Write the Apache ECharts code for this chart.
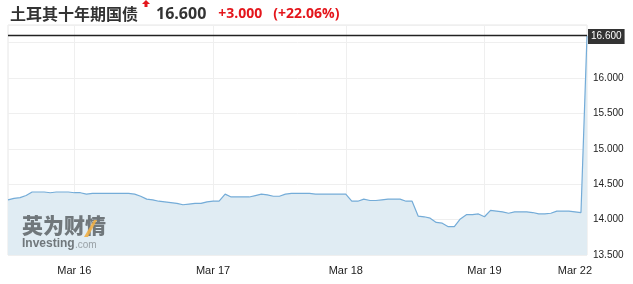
<!DOCTYPE html>
<html><head><meta charset="utf-8">
<script src="https://cdn.jsdelivr.net/npm/echarts@6/dist/echarts.min.js"></script>
<style>html,body{margin:0;padding:0;background:#fff}#c{width:633px;height:284px}</style>
</head><body><div id="c"></div>
<script>
// Time slots (about every few hours of trading); day labels shown at the slots below
const slots = ['s0','s1','s2','s3','s4','s5','s6','s7','s8','s9','s10','s11','s12','s13','s14','s15','s16','s17','s18','s19','s20','s21','s22','s23','s24','s25','s26','s27','s28','s29','s30','s31','s32','s33','s34','s35','s36','s37','s38','s39','s40','s41','s42','s43','s44','s45','s46','s47','s48','s49','s50','s51','s52','s53','s54','s55','s56','s57','s58','s59','s60','s61','s62','s63','s64','s65','s66','s67','s68','s69','s70','s71','s72','s73','s74','s75','s76','s77','s78','s79','s80','s81','s82','s83','s84','s85','s86','s87','s88','s89','s90','s91','s92','s93','s94','s95','s96'];
const dayLabels = {s11:'Mar 16', s34:'Mar 17', s56:'Mar 18', s79:'Mar 19', s94:'Mar 22'};
const yields = [
 14.28,14.30,14.31,14.34,14.39,14.39,14.39,14.38,14.39,14.39,
 14.39,14.38,14.38,14.36,14.37,14.37,14.37,14.37,14.37,14.37,
 14.37,14.36,14.33,14.29,14.28,14.26,14.25,14.24,14.23,14.21,
 14.22,14.23,14.23,14.25,14.26,14.26,14.36,14.32,14.32,14.32,
 14.32,14.34,14.36,14.35,14.33,14.33,14.36,14.37,14.37,14.37,
 14.37,14.36,14.36,14.36,14.36,14.36,14.36,14.26,14.26,14.29,
 14.27,14.27,14.28,14.29,14.29,14.29,14.26,14.26,14.05,14.04,
 14.02,13.96,13.95,13.90,13.90,14.01,14.07,14.07,14.08,14.04,
 14.13,14.12,14.11,14.09,14.11,14.11,14.11,14.10,14.08,14.08,
 14.09,14.12,14.12,14.12,14.11,14.10,16.60
];
const lastPrice = 16.600;
const headline = {name:'土耳其十年期国债', price:'16.600', change:'+3.000', pct:'(+22.06%)'};
const yMin = 13.5, yMax = 16.75, yStep = 0.5;

const chart = echarts.init(document.getElementById('c'), null, {renderer:'canvas'});
chart.setOption({
  animation:false,
  title:{
    left:5, top:0,
    text:'{a|'+headline.name+'}{sp|}{b|'+headline.price+'}{sp2|}{c|'+headline.change+'}{sp3|}{c|'+headline.pct+'}',
    textStyle:{
      rich:{
        a:{fontFamily:'Noto Sans CJK SC',fontSize:16,color:'#333'},
        sp:{width:18},
        b:{fontFamily:'Open Sans',fontSize:16,fontWeight:'bold',color:'#333'},
        sp2:{width:12},
        c:{fontFamily:'Open Sans',fontSize:14,fontWeight:'bold',color:'#e4161c'},
        sp3:{width:11}
      }
    }
  },
  graphic:[
    {type:'polygon', z:20, shape:{points:[[142,4],[146,0],[150,4],[147.5,4],[147.5,7],[144.5,7],[144.5,4]]}, style:{fill:'#e4161c'}, silent:true},
    {type:'text', z:20, left:22, top:215, style:{text:'英为财情', font:'900 21px "Noto Sans CJK SC"', fill:'rgba(100,106,110,0.9)'}},
    {type:'polygon', z:21, shape:{points:[[84,237],[94,220],[97,220],[88,237]]}, style:{fill:'rgba(240,175,70,0.9)'}, silent:true},
    {type:'text', z:20, left:22, top:238, style:{text:'Investing', font:'bold 12px "Liberation Sans"', fill:'rgba(100,106,110,0.9)'}},
    {type:'text', z:20, left:75, top:240, style:{text:'.com', font:'10px "Liberation Sans"', fill:'rgba(130,136,140,0.75)'}}
  ],
  grid:{left:8, right:46, top:25, bottom:29, show:true, borderColor:'#e6e6e6', borderWidth:1, backgroundColor:'transparent'},
  xAxis:{
    type:'category', data:slots, boundaryGap:false,
    axisLine:{show:false}, axisTick:{show:false},
    axisLabel:{
      interval:(i,v)=>!!dayLabels[v],
      formatter:(v)=>dayLabels[v]||'',
      color:'#222', fontSize:11, fontFamily:'Liberation Sans', margin:10
    },
    splitLine:{show:true, interval:(i,v)=>!!dayLabels[v] && v!=='s94', lineStyle:{color:'#efefef'}}
  },
  yAxis:{
    type:'value', position:'right', min:yMin, max:yMax, interval:yStep,
    axisLine:{show:false}, axisTick:{show:false},
    axisLabel:{
      color:'#222', fontSize:10, fontFamily:'Liberation Sans', margin:6,
      formatter:(v)=> (v>16.45 ? '' : v.toFixed(3))
    },
    splitLine:{show:true, lineStyle:{color:'#efefef'}}
  },
  series:[{
    type:'line', data:yields, symbol:'none', smooth:false,
    lineStyle:{color:'#74acd8', width:1.2},
    areaStyle:{color:'#e0ecf3', origin:'start', opacity:1},
    markLine:{
      symbol:['none','none'], silent:true,
      data:[{yAxis:lastPrice}],
      lineStyle:{color:'#222', width:1.3, type:'solid'},
      label:{
        show:true, position:'end', distance:1,
        formatter:()=>lastPrice.toFixed(3),
        backgroundColor:'#333', color:'#fff', fontSize:10, fontFamily:'Liberation Sans',
        padding:[3,3,2,3], offset:[0,1]
      }
    },
    z:3
  }]
});
</script></body></html>
